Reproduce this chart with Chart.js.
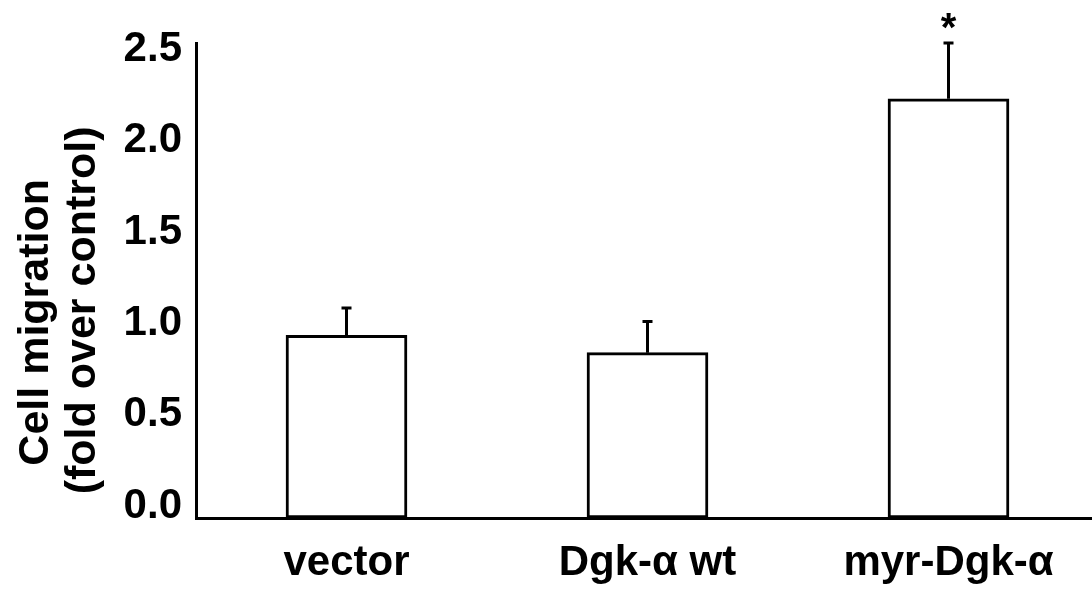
<!DOCTYPE html>
<html>
<head>
<meta charset="utf-8">
<script src="https://cdn.jsdelivr.net/npm/chart.js@4/dist/chart.umd.min.js"></script>
<style>
  html, body { margin: 0; padding: 0; background: #fff; overflow: hidden; }
  #wrap { width: 1099px; height: 594px; }
</style>
</head>
<body>
<div id="wrap"><canvas id="c" width="1099" height="594"></canvas></div>
<script>
const categories = ['vector', 'Dgk-\u03b1 wt', 'myr-Dgk-\u03b1'];
const means = [1.0, 0.905, 2.295];
const errors = [0.15, 0.17, 0.305];
const significance = ['', '', '*'];
const yTicks = [0, 0.5, 1.0, 1.5, 2.0, 2.5];
const yTitle = ['Cell migration\u00a0\u00a0\u00a0\u00a0\u00a0\u00a0\u00a0', '(fold over control)\u00a0\u00a0\u00a0\u00a0\u00a0'];

const FONT = "'Liberation Sans', Arial, sans-serif";

const errPlugin = {
  id: 'errbars',
  afterDatasetsDraw(chart) {
    const { ctx, scales: { x, y } } = chart;
    ctx.save();
    ctx.strokeStyle = '#000';
    ctx.fillStyle = '#000';
    ctx.lineWidth = 3;
    categories.forEach((c, i) => {
      const px = x.getPixelForValue(i);
      const top = y.getPixelForValue(means[i]);
      const e = y.getPixelForValue(means[i] + errors[i]);
      ctx.beginPath();
      ctx.moveTo(px, top);
      ctx.lineTo(px, e);
      ctx.moveTo(px - 5, e);
      ctx.lineTo(px + 5, e);
      ctx.stroke();
      if (significance[i]) {
        ctx.font = 'bold 40px ' + FONT;
        ctx.textAlign = 'center';
        ctx.textBaseline = 'alphabetic';
        ctx.fillText(significance[i], px, e - 2);
      }
    });
    ctx.restore();
  }
};

new Chart(document.getElementById('c'), {
  type: 'bar',
  data: {
    labels: categories,
    datasets: [{
      data: means,
      backgroundColor: '#ffffff',
      borderColor: '#000000',
      borderWidth: 3,
      borderSkipped: false,
      barThickness: 121
    }]
  },
  options: {
    responsive: false,
    animation: false,
    layout: { padding: { top: 43, left: 0, right: 0, bottom: 0 } },
    plugins: { legend: { display: false }, tooltip: { enabled: false } },
    scales: {
      x: {
        type: 'category',
        offset: true,
        grid: { display: false, drawTicks: false },
        border: { display: true, color: '#000', width: 3 },
        ticks: {
          color: '#000',
          padding: 20,
          font: { family: FONT, size: 42, weight: 'bold' },
          maxRotation: 0
        },
        afterFit(s) { s.height = 76; }
      },
      y: {
        type: 'linear',
        min: 0,
        max: 2.6,
        grid: { display: false, drawTicks: false },
        border: { display: true, color: '#000', width: 3 },
        afterBuildTicks(s) { s.ticks = yTicks.map(v => ({ value: v })); },
        ticks: {
          color: '#000',
          padding: 14,
          labelOffset: -12,
          font: { family: FONT, size: 42, weight: 'bold' },
          callback: v => Number(v).toFixed(1)
        },
        title: {
          display: true,
          text: yTitle,
          color: '#000',
          font: { family: FONT, size: 43, weight: 'bold', lineHeight: 1.09 },
          padding: { top: 13, bottom: 0 }
        },
        afterFit(s) { s.width = 196; }
      }
    }
  },
  plugins: [errPlugin]
});
</script>
</body>
</html>
